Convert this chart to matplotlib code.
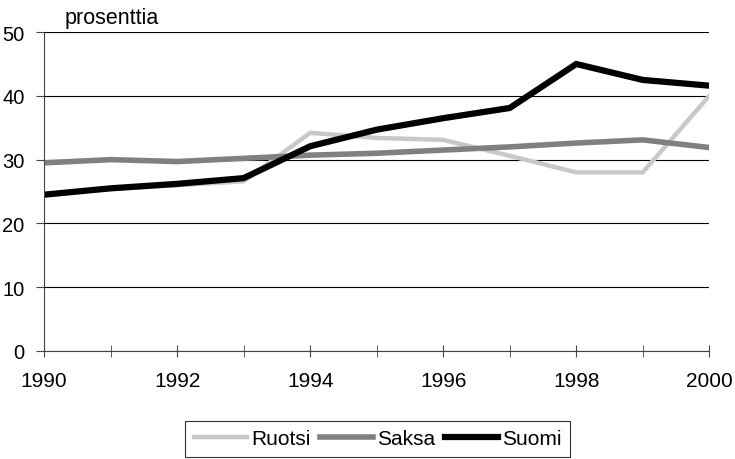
import matplotlib.pyplot as plt
import numpy as np

# Data
years = np.arange(1990, 2001)
ruotsi = [24.6, 25.4, 26.0, 26.6, 34.2, 33.4, 33.1, 30.6, 28.0, 28.0, 40.0]
saksa = [29.5, 30.0, 29.7, 30.2, 30.7, 31.0, 31.5, 32.0, 32.6, 33.1, 31.9]
suomi = [24.5, 25.5, 26.2, 27.1, 32.1, 34.7, 36.5, 38.1, 45.0, 42.5, 41.6]

plt.rcParams['font.family'] = ['Liberation Sans', 'DejaVu Sans']

fig = plt.figure(figsize=(7.35, 4.6), dpi=100)
ax = fig.add_axes([0.060, 0.235, 0.905, 0.693])

ax.plot(years, ruotsi, color='#c8c8c8', linewidth=3.2, label='Ruotsi', solid_joinstyle='miter')
ax.plot(years, saksa, color='#808080', linewidth=4.0, label='Saksa', solid_joinstyle='miter')
ax.plot(years, suomi, color='black', linewidth=4.5, label='Suomi', solid_joinstyle='miter')

ax.set_xlim(1990, 2000)
ax.set_ylim(0, 50)
ax.set_yticks(np.arange(0, 51, 10))
ax.set_xticks(np.arange(1990, 2001, 2))
ax.set_xticks(np.arange(1990, 2001, 1), minor=True)
ax.yaxis.grid(True, color='black', linewidth=0.8)
ax.set_axisbelow(True)

for s in ['top', 'right']:
    ax.spines[s].set_visible(False)
for s in ['left', 'bottom']:
    ax.spines[s].set_color('#444444')
    ax.spines[s].set_linewidth(0.8)

ax.tick_params(axis='y', labelsize=14.5, color='#444444', direction='out', length=6, pad=8)
ax.tick_params(axis='x', which='both', labelsize=15, color='#444444',
               direction='inout', length=9, pad=10)

fig.text(0.088, 1 - 24 / 460, 'prosenttia', fontsize=15.5, va='baseline', ha='left')

leg = fig.legend(loc='lower center', bbox_to_anchor=(0.514, 0.004), ncol=3,
                 fontsize=15, frameon=True, fancybox=False, edgecolor='black',
                 handlelength=2.55, handletextpad=0.2, columnspacing=0.45,
                 borderpad=0.42, borderaxespad=0.0)
leg.get_frame().set_linewidth(0.8)

plt.savefig('out.png', dpi=100)
